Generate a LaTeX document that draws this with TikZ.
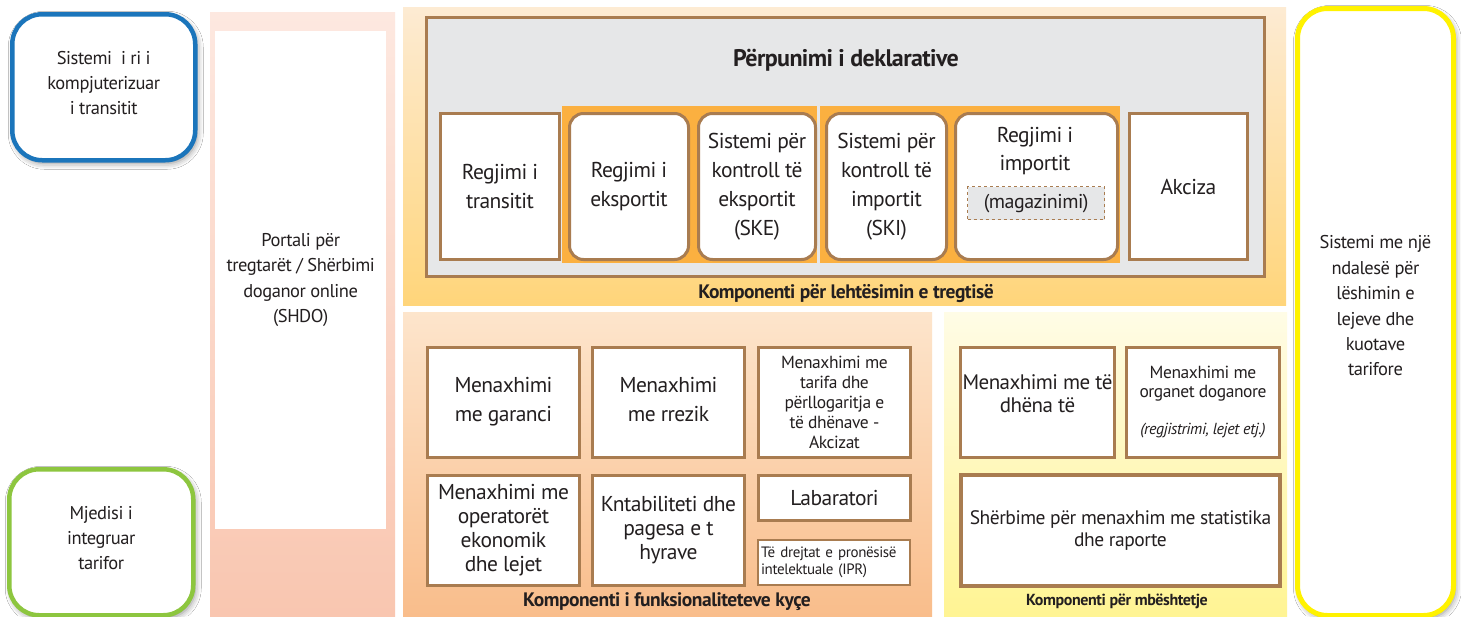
\documentclass[tikz,border=0pt]{standalone}
\usepackage{fontspec}
\setmainfont[LetterSpace=-2.5]{PT Sans}
\usetikzlibrary{shadows.blur}
\definecolor{brn}{HTML}{A97C50}
\definecolor{txt}{HTML}{231F20}
\definecolor{gry}{HTML}{E6E7E8}
\definecolor{org}{HTML}{FBB040}
\definecolor{blu}{HTML}{1B75BB}
\definecolor{grn}{HTML}{8DC63F}
\definecolor{ylw}{HTML}{FFF200}
\definecolor{portT}{HTML}{FDE8E0}
\definecolor{portB}{HTML}{F9C6B0}
\definecolor{topT}{HTML}{FDEBD3}
\definecolor{topB}{HTML}{FFD57A}
\definecolor{keyT}{HTML}{FDE5CC}
\definecolor{keyB}{HTML}{F9BD8B}
\definecolor{supT}{HTML}{FFFCE6}
\definecolor{supB}{HTML}{FFF493}
\newcommand{\fs}[2]{\fontsize{#1}{#2}\selectfont}
\tikzset{
  bx/.style={draw=brn, line width=3pt, fill=white, anchor=north west, inner sep=2pt, align=center, text=txt},
  rbx/.style={bx, rounded corners=14pt},
  panel/.style={anchor=north west, inner sep=0pt, draw=none},
  sidebox/.style={anchor=north west, fill=white, rounded corners=30pt, align=center, text=txt, inner sep=2pt,
     blur shadow={shadow xshift=2pt, shadow yshift=-3pt, shadow blur radius=6pt, shadow opacity=45}},
  ttl/.style={text=txt, inner sep=0pt, font=\bfseries\fs{19.5}{22}},
}
\begin{document}
\begin{tikzpicture}[x=1pt, y=-1pt]
\useasboundingbox (0,0) rectangle (1461,616);
\fill[white] (0,0) rectangle (1461,616);

% left side boxes
\node[sidebox, draw=blu, line width=4.5pt, minimum width=183pt, minimum height=146pt, font=\fs{18.5}{25}] (cts) at (10,12) {Sistemi \ i ri i\\kompjuterizuar\\i transitit\\[-16pt]};
\node[sidebox, draw=grn, line width=4.5pt, minimum width=184pt, minimum height=146pt, font=\fs{18.5}{25}] (mit) at (7,467) {Mjedisi i\\integruar\\tarifor\\[-16pt]};

% portal column
\node[panel, minimum width=185pt, minimum height=604pt, top color=portT, bottom color=portB] (portalbg) at (210,12) {};
\node[panel, fill=white, minimum width=171pt, minimum height=498pt, align=center, text=txt, font=\fs{18.5}{25.5}] (portal) at (215,31) {Portali për\\tregtarët / Shërbimi\\doganor online\\(SHDO)};

% top panel
\node[panel, minimum width=883pt, minimum height=298pt, top color=topT, bottom color=topB] (toppanel) at (403,7) {};
\node[panel, fill=gry, draw=brn, line width=3pt, minimum width=838pt, minimum height=259pt] (decl) at (425,16) {};
\node[ttl, font=\bfseries\fs{24}{28}] (decltitle) at (846,60) {Përpunimi i deklarative};

\node[bx, minimum width=119pt, minimum height=146pt, font=\fs{21.5}{29}] (transit) at (439,112) {Regjimi i\\transitit};
\node[panel, fill=org, minimum width=255pt, minimum height=157pt] (grpexp) at (562,106) {};
\node[rbx, minimum width=119pt, minimum height=146pt, font=\fs{21.5}{29}] (export) at (568,112) {Regjimi i\\eksportit};
\node[rbx, minimum width=117pt, minimum height=146pt, font=\fs{21.5}{29}] (ske) at (697,112) {Sistemi për\\kontroll të\\eksportit\\(SKE)};
\node[panel, fill=org, minimum width=300pt, minimum height=157pt] (grpimp) at (820,106) {};
\node[rbx, minimum width=120pt, minimum height=146pt, font=\fs{21.5}{29}] (ski) at (825,112) {Sistemi për\\kontroll të\\importit\\(SKI)};
\node[rbx, minimum width=162pt, minimum height=146pt] (import) at (954,112) {};
\node[text=txt, align=center, inner sep=0pt, font=\fs{21.5}{28}] (importtxt) at (1035,151) {Regjimi i\\importit};
\node[panel, fill=gry, draw=brn, dashed, line width=1.2pt, minimum width=137pt, minimum height=33pt, text=txt, font=\fs{20}{22}] (mag) at (967,186) {(magazinimi)};
\node[bx, minimum width=118pt, minimum height=146pt, font=\fs{21.5}{29}] (akciza) at (1128,112) {Akciza};
\node[ttl] (toptitle) at (846,294) {Komponenti për lehtësimin e tregtisë};

% bottom-left panel
\node[panel, minimum width=529pt, minimum height=304pt, top color=keyT, bottom color=keyB] (keypanel) at (403,312) {};
\node[bx, minimum width=152pt, minimum height=110pt, font=\fs{21.5}{29}] (garanci) at (426,346) {Menaxhimi\\me garanci\\[-22pt]};
\node[bx, minimum width=152pt, minimum height=110pt, font=\fs{21.5}{29}] (rrezik) at (591,346) {Menaxhimi\\me rrezik\\[-22pt]};
\node[bx, minimum width=152pt, minimum height=110pt, font=\fs{17.5}{20}] (tarifa) at (757,346) {Menaxhimi me\\tarifa dhe\\përllogaritja e\\të dhënave -\\Akcizat};
\node[bx, minimum width=152pt, minimum height=110pt, font=\fs{21.5}{24}] (operator) at (426,474) {Menaxhimi me\\operatorët\\ekonomik\\dhe lejet};
\node[bx, minimum width=152pt, minimum height=110pt, font=\fs{21.5}{24}] (kontab) at (591,474) {Kntabiliteti dhe\\pagesa e t\\hyrave};
\node[bx, minimum width=152pt, minimum height=45pt, font=\fs{21.5}{24}] (lab) at (757,474) {Labaratori};
\node[bx, line width=2pt, minimum width=152pt, minimum height=45pt, align=left, text width=146pt, font=\fs{15}{17}] (ipr) at (757,539) {Të drejtat e pronësisë\\intelektuale (IPR)};
\node[ttl] (keytitle) at (667,602) {Komponenti i funksionaliteteve kyçe};

% support panel
\node[panel, minimum width=343pt, minimum height=304pt, top color=supT, bottom color=supB] (suppanel) at (944,312) {};
\node[bx, minimum width=153pt, minimum height=110pt, font=\fs{21}{23}] (dhena) at (959,346) {Menaxhimi me të\\dhëna të\\[-6pt]};
\node[bx, minimum width=153pt, minimum height=110pt, font=\fs{17.5}{19}] (organet) at (1125,346) {Menaxhimi me\\organet doganore\\[18pt]{\itshape\fs{16}{19}(regjistrimi, lejet etj.)}};
\node[bx, line width=4pt, minimum width=319pt, minimum height=111pt, font=\fs{19.5}{22}] (stat) at (959,473) {Shërbime për menaxhim me statistika\\dhe raporte};
\node[ttl, font=\bfseries\fs{16}{18}] (suptitle) at (1117,601) {Komponenti për mbështetje};

% right yellow box
\node[sidebox, draw=ylw, line width=5pt, minimum width=156pt, minimum height=607pt, font=\fs{18.5}{25.4}] (onestop) at (1295,6) {Sistemi me një\\ndalesë për\\lëshimin e\\lejeve dhe\\kuotave\\tarifore\\[-13pt]};
\end{tikzpicture}
\end{document}
